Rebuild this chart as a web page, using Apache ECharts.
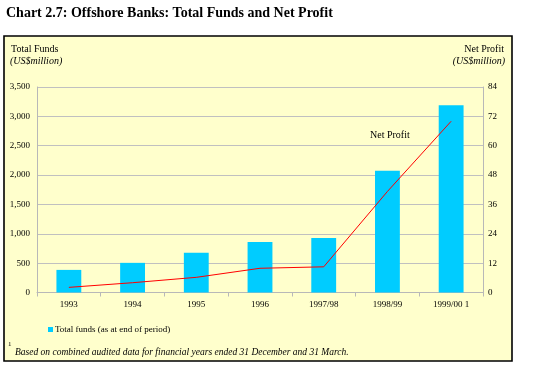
<!DOCTYPE html>
<html>
<head>
<meta charset="utf-8">
<script src="https://cdn.jsdelivr.net/npm/echarts@6/dist/echarts.min.js"></script>
<style>
html,body{margin:0;padding:0;background:#fff;}
#c{width:537px;height:374px;}
</style>
</head>
<body>
<div id="c"></div>
<script>
const categories = ['1993', '1994', '1995', '1996', '1997/98', '1998/99', '1999/00 1'];
const totalFunds = [385, 505, 675, 860, 930, 2075, 3190];
const netProfit = [2.1, 4.0, 6.2, 9.9, 10.5, 41.3, 70];
const leftTicks = { min: 0, max: 3500, interval: 500 };
const rightTicks = { min: 0, max: 84, interval: 12 };

const FONT = '"Liberation Serif", "Times New Roman", serif';
const chart = echarts.init(document.getElementById('c'), null, { renderer: 'canvas' });

chart.setOption({
  backgroundColor: '#ffffff',
  animation: false,
  textStyle: { fontFamily: FONT, color: '#000' },
  graphic: [
    { type: 'rect', z: -10, shape: { x: 4, y: 36, width: 508, height: 325 },
      style: { fill: '#FFFFCC', stroke: '#000', lineWidth: 1.6 } },
    { type: 'text', left: 6, top: 6, style: { text: 'Chart 2.7: Offshore Banks: Total Funds and Net Profit',
      font: 'bold 14px ' + FONT, fill: '#000' } },
    { type: 'text', left: 11, top: 44, style: { text: 'Total Funds', font: '10px ' + FONT, fill: '#000' } },
    { type: 'text', left: 10, top: 56, style: { text: '(US$million)', font: 'italic 10px ' + FONT, fill: '#000' } },
    { type: 'text', right: 33, top: 44, style: { text: 'Net Profit', font: '10px ' + FONT, fill: '#000' } },
    { type: 'text', right: 32, top: 56, style: { text: '(US$million)', font: 'italic 10px ' + FONT, fill: '#000' } },
    { type: 'text', left: 370, top: 130, style: { text: 'Net Profit', font: '10px ' + FONT, fill: '#000' } },
    { type: 'text', left: 8, top: 341, style: { text: '1', font: '7px ' + FONT, fill: '#000' } },
    { type: 'text', left: 15, top: 347, style: { text: 'Based on combined audited data for financial years ended 31 December and 31 March.',
      font: 'italic 9.5px ' + FONT, fill: '#000' } }
  ],
  legend: {
    data: ['Total funds (as at end of period)'],
    left: 43, top: 320,
    icon: 'rect', itemWidth: 5, itemHeight: 5, itemGap: 2,
    textStyle: { fontFamily: FONT, fontSize: 9, color: '#000', padding: [3, 0, 0, -3] }
  },
  grid: { left: 37, right: 54, top: 87, bottom: 81.5, containLabel: false },
  xAxis: {
    type: 'category',
    data: categories,
    axisLine: { lineStyle: { color: '#b8b8b8', width: 1 } },
    axisTick: { show: true, length: 4, lineStyle: { color: '#b8b8b8' } },
    axisLabel: { fontFamily: FONT, fontSize: 9, color: '#000', margin: 8 }
  },
  yAxis: [
    {
      type: 'value', min: leftTicks.min, max: leftTicks.max, interval: leftTicks.interval,
      axisLine: { show: true, lineStyle: { color: '#b8b8b8' } },
      axisTick: { show: false },
      splitLine: { show: true, lineStyle: { color: '#c0c0c0', width: 1 } },
      axisLabel: { fontFamily: FONT, fontSize: 9, color: '#000', margin: 7,
        formatter: v => v.toLocaleString('en-US') }
    },
    {
      type: 'value', min: rightTicks.min, max: rightTicks.max, interval: rightTicks.interval,
      axisLine: { show: true, lineStyle: { color: '#b8b8b8' } },
      axisTick: { show: false },
      splitLine: { show: false },
      axisLabel: { fontFamily: FONT, fontSize: 9, color: '#000', margin: 5 }
    }
  ],
  series: [
    {
      name: 'Total funds (as at end of period)',
      type: 'bar', yAxisIndex: 0,
      data: totalFunds,
      barWidth: '39%',
      itemStyle: { color: '#00CCFF' }
    },
    {
      name: 'Net Profit',
      type: 'line', yAxisIndex: 1,
      data: netProfit,
      symbol: 'none',
      lineStyle: { color: '#FF0000', width: 1 }
    }
  ]
});
</script>
</body>
</html>
